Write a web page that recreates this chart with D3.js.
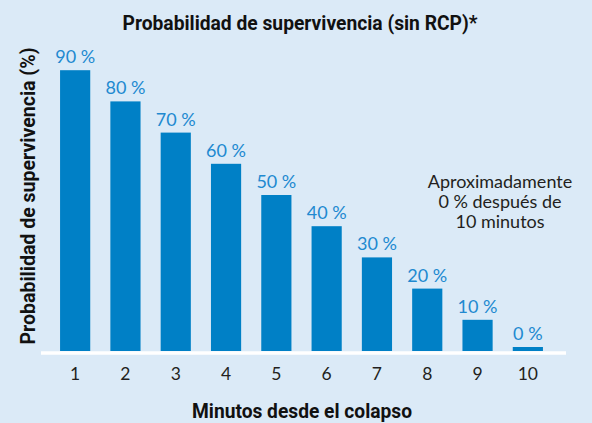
<!DOCTYPE html>
<html>
<head>
<meta charset="utf-8">
<script src="https://cdn.jsdelivr.net/npm/d3@7"></script>
<style>
  body { margin: 0; background: #dbeaf7; }
  svg { display: block; }
</style>
</head>
<body>
<svg id="chart" width="592" height="423"></svg>
<script>
// data
const minutes = [1, 2, 3, 4, 5, 6, 7, 8, 9, 10]
const survival = [90, 80, 70, 60, 50, 40, 30, 20, 10, 0]
const noteLines = ['Aproximadamente', '0 % después de', '10 minutos']

const svg = d3.select('#chart')
const W = 592, H = 423
const base = 351

svg.append('rect').attr('width', W).attr('height', H).attr('fill', '#dbeaf7')

const x = d3.scaleBand().domain(minutes).range([50, 553])
  .paddingInner(0.4).paddingOuter(0.2)
const y = d3.scaleLinear().domain([0, 100]).range([base, 39])

const rows = minutes.map((m, i) => ({m, v: survival[i]}))
const minH = 4 // keep the 0 % bar visible as a stub

const lightFont = 'Lato, "Noto Sans", sans-serif'
const boldFont = 'Roboto, "Liberation Sans", sans-serif'

// bars
svg.append('g').selectAll('rect').data(rows).join('rect')
  .attr('x', d => x(d.m))
  .attr('width', x.bandwidth())
  .attr('y', d => Math.min(y(d.v), base - minH))
  .attr('height', d => Math.max(base - y(d.v), minH))
  .attr('fill', '#0080c6')

// value labels
svg.append('g').selectAll('text').data(rows).join('text')
  .attr('x', d => x(d.m) + x.bandwidth() / 2)
  .attr('y', d => Math.min(y(d.v), base - minH) - 7)
  .attr('text-anchor', 'middle')
  .attr('font-family', lightFont)
  .attr('font-size', 18)
  .attr('fill', '#2189d0')
  .text(d => d.v + ' %')

// baseline
svg.append('line')
  .attr('x1', 41).attr('x2', 566)
  .attr('y1', base + 2).attr('y2', base + 2)
  .attr('stroke', '#fff').attr('stroke-width', 3.5)

// x axis ticks
const xAxis = svg.append('g')
  .attr('transform', `translate(0,${base + 4})`)
  .call(d3.axisBottom(x).tickSize(0))
xAxis.select('.domain').remove()
xAxis.selectAll('text')
  .attr('y', 25).attr('dy', 0)
  .attr('font-family', lightFont)
  .attr('font-size', 17.5)
  .attr('fill', '#231f20')

// title
svg.append('text')
  .attr('x', 300).attr('y', 30)
  .attr('text-anchor', 'middle')
  .attr('font-family', boldFont).attr('font-weight', 'bold')
  .attr('font-size', 20.5).attr('fill', '#111')
  .attr('textLength', 355).attr('lengthAdjust', 'spacingAndGlyphs')
  .text('Probabilidad de supervivencia (sin RCP)*')

// x title
svg.append('text')
  .attr('x', 302).attr('y', 418)
  .attr('text-anchor', 'middle')
  .attr('font-family', boldFont).attr('font-weight', 'bold')
  .attr('font-size', 20.5).attr('fill', '#111')
  .attr('textLength', 220).attr('lengthAdjust', 'spacingAndGlyphs')
  .text('Minutos desde el colapso')

// y title
svg.append('text')
  .attr('transform', 'translate(35,196) rotate(-90)')
  .attr('text-anchor', 'middle')
  .attr('font-family', boldFont).attr('font-weight', 'bold')
  .attr('font-size', 20.5).attr('fill', '#111')
  .attr('textLength', 297).attr('lengthAdjust', 'spacingAndGlyphs')
  .text('Probabilidad de supervivencia (%)')

// note
svg.append('text')
  .attr('text-anchor', 'middle')
  .attr('font-family', lightFont)
  .attr('font-size', 18).attr('fill', '#231f20')
  .selectAll('tspan').data(noteLines).join('tspan')
  .attr('x', 500)
  .attr('y', (d, i) => 188 + i * 20)
  .text(d => d)
</script>
</body>
</html>
